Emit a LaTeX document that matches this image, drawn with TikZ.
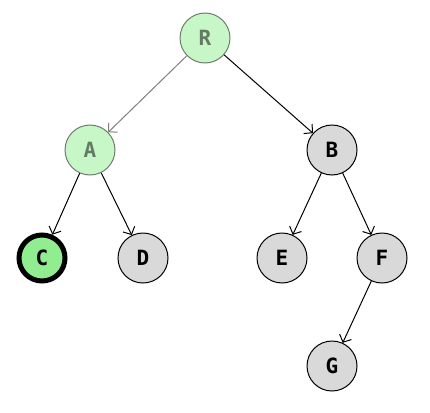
\documentclass[tikz,border=0pt]{standalone}
\usepackage{fontspec}
\setmainfont{DejaVu Sans Mono}
\usetikzlibrary{arrows.meta}
\definecolor{lgreen}{HTML}{90EE90}
\definecolor{lgray}{HTML}{D9D9D9}
\begin{document}
\begin{tikzpicture}[x=1pt,y=-1pt,
  tnode/.style={circle,draw=black,line width=1pt,minimum size=50pt,inner sep=0pt,fill=lgray,font=\fontsize{21}{22}\selectfont\bfseries},
  faded/.style={opacity=0.5,fill=lgreen},
  cur/.style={fill=lgreen,line width=5pt,minimum size=46pt},
  edge/.style={-{Straight Barb[length=6pt,width=13pt]},line width=1pt}]
\useasboundingbox (0,0) rectangle (430,412);
\node[tnode,faded] (R) at (205,38) {R};
\node[tnode,faded] (A) at (90,150) {A};
\node[tnode] (B) at (332,150) {B};
\node[tnode,cur] (C) at (42,258) {C};
\node[tnode] (D) at (143,258) {D};
\node[tnode] (E) at (282,258) {E};
\node[tnode] (F) at (382,258) {F};
\node[tnode] (G) at (332,366) {G};
\draw[edge,opacity=0.5] (R) -- (A);
\draw[edge] (R) -- (B);
\draw[edge] (A) -- (C);
\draw[edge] (A) -- (D);
\draw[edge] (B) -- (E);
\draw[edge] (B) -- (F);
\draw[edge] (F) -- (G);
\end{tikzpicture}
\end{document}
